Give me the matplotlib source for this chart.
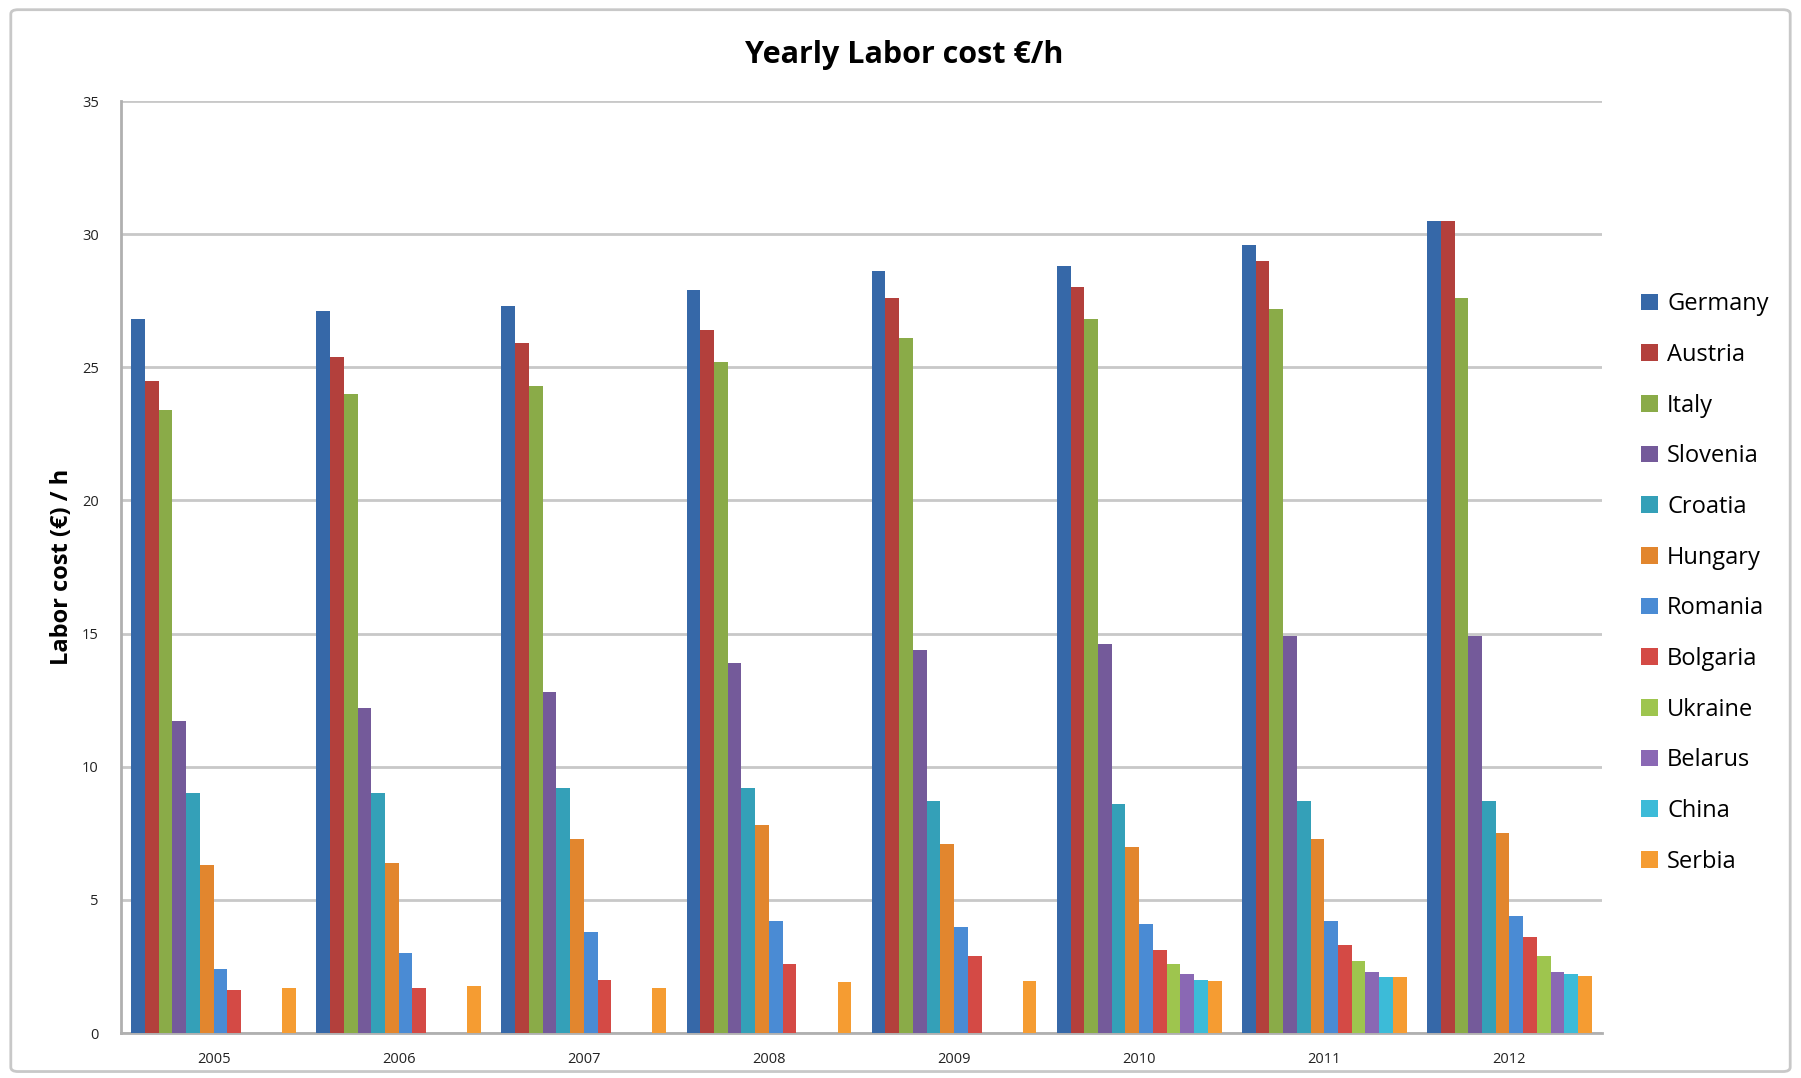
#!/usr/bin/env python3
# Yearly labor cost per hour, grouped bars per year
import numpy as np
import matplotlib.pyplot as plt
from matplotlib.patches import FancyBboxPatch

years = ["2005", "2006", "2007", "2008", "2009", "2010", "2011", "2012"]
countries = ["Germany", "Austria", "Italy", "Slovenia", "Croatia", "Hungary",
             "Romania", "Bolgaria", "Ukraine", "Belarus", "China", "Serbia"]

nan = np.nan
germany = [26.8, 27.1, 27.3, 27.9, 28.6, 28.8, 29.6, 30.5]
austria = [24.5, 25.4, 25.9, 26.4, 27.6, 28.0, 29.0, 30.5]
italy = [23.4, 24.0, 24.3, 25.2, 26.1, 26.8, 27.2, 27.6]
slovenia = [11.7, 12.2, 12.8, 13.9, 14.4, 14.6, 14.9, 14.9]
croatia = [9.0, 9.0, 9.2, 9.2, 8.7, 8.6, 8.7, 8.7]
hungary = [6.3, 6.4, 7.3, 7.8, 7.1, 7.0, 7.3, 7.5]
romania = [2.4, 3.0, 3.8, 4.2, 4.0, 4.1, 4.2, 4.4]
bolgaria = [1.6, 1.7, 2.0, 2.6, 2.9, 3.1, 3.3, 3.6]
ukraine = [nan, nan, nan, nan, nan, 2.6, 2.7, 2.9]
belarus = [nan, nan, nan, nan, nan, 2.2, 2.3, 2.3]
china = [nan, nan, nan, nan, nan, 2.0, 2.1, 2.2]
serbia = [1.7, 1.75, 1.7, 1.9, 1.95, 1.95, 2.1, 2.15]

series = [germany, austria, italy, slovenia, croatia, hungary,
          romania, bolgaria, ukraine, belarus, china, serbia]
colors = ["#3668a8", "#b3403c", "#8aab48", "#745a9a", "#34a0b8", "#e2862e",
          "#4a8bd4", "#d44a45", "#9ec54e", "#8a68b4", "#3cbbd8", "#f59c32"]

plt.rcParams['font.family'] = ['Open Sans', 'DejaVu Sans']

fig = plt.figure(figsize=(18.01, 10.78), dpi=100)
ax = fig.add_axes([0.0672, 0.0417, 0.8223, 0.8646])

x = np.arange(len(years))
n = len(series)
width = 0.89 / n
for i, (vals, name, col) in enumerate(zip(series, countries, colors)):
    ax.bar(x - 0.445 + width * (i + 0.5), vals, width, color=col, label=name,
           linewidth=0, zorder=3)

ax.set_xlim(-0.5, len(years) - 0.5)
ax.set_ylim(0, 35)
ax.set_yticks(range(0, 36, 5))
ax.set_xticks(x)
ax.set_xticklabels(years)
ax.tick_params(axis='both', labelsize=10.5, length=0, colors='#222222')
ax.tick_params(axis='x', pad=14)
ax.tick_params(axis='y', pad=16)
ax.grid(axis='y', color='#c8c8c8', linewidth=2, zorder=0)
for side in ('top', 'right'):
    ax.spines[side].set_visible(False)
for side in ('left', 'bottom'):
    ax.spines[side].set_color('#b0b0b0')
    ax.spines[side].set_linewidth(2)

ax.set_ylabel("Labor cost (€) / h", fontsize=17, fontweight='bold', labelpad=6)
fig.text(0.502, 0.949, "Yearly Labor cost €/h", fontsize=22, fontweight='bold',
         ha='center', va='center')

ax.legend(loc='upper left', bbox_to_anchor=(1.020, 0.805), frameon=False,
          fontsize=17, handlelength=0.7, handleheight=0.7, handletextpad=0.4,
          labelspacing=1.13, borderaxespad=0)

# chart border
fig.patches.append(FancyBboxPatch((0.006, 0.006), 0.988, 0.985,
                                  boxstyle="round,pad=0,rounding_size=0.004",
                                  transform=fig.transFigure, fill=False,
                                  edgecolor='#c8c8c8', linewidth=2))

fig.savefig("out.png", dpi=100)
